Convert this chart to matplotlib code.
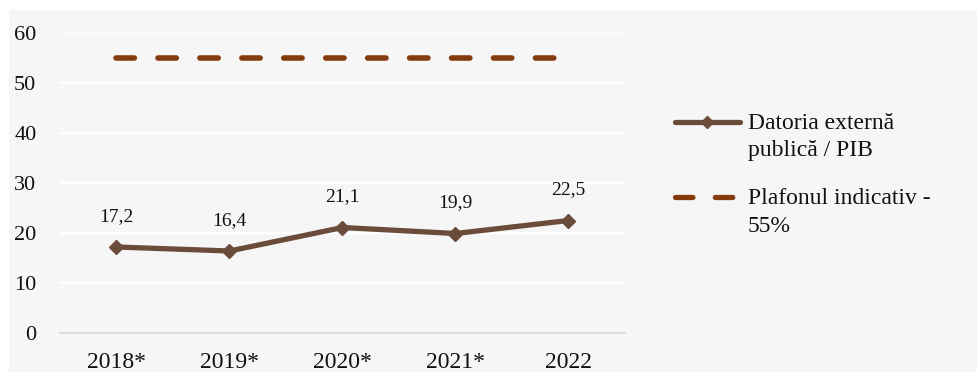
import matplotlib
matplotlib.use("Agg")
import matplotlib.pyplot as plt
from matplotlib.patches import Rectangle
from matplotlib.lines import Line2D

categories = ["2018*", "2019*", "2020*", "2021*", "2022"]
debt_ratio = [17.2, 16.4, 21.1, 19.9, 22.5]
ceiling = [55, 55, 55, 55, 55]
labels = ["17,2", "16,4", "21,1", "19,9", "22,5"]
series_names = ["Datoria externă\npublică / PIB", "Plafonul indicativ -\n55%"]
yticks = [0, 10, 20, 30, 40, 50, 60]

plt.rcParams['font.family'] = ['Liberation Serif', 'DejaVu Serif']

W, H = 978, 372
bg = "#f6f6f6"
fig = plt.figure(figsize=(W / 100, H / 100), dpi=100)
fig.patch.set_facecolor("white")
fig.add_artist(Rectangle((9 / W, 0), 1, 1 - 10 / H, transform=fig.transFigure,
                         facecolor=bg, edgecolor="none", zorder=-10))

ax = fig.add_axes([60 / W, 1 - 333 / H, 565 / W, 300 / H])
ax.set_facecolor(bg)
x = list(range(len(categories)))

main_col = "#6b4c3b"
dash_col = "#843c0c"
dash_style = (0, (3.3, 4.25))

ax.plot(x, ceiling, color=dash_col, lw=4.0, linestyle=dash_style,
        dash_capstyle="round", zorder=3)
ax.plot(x, debt_ratio, color=main_col, lw=3.8, marker="D", markersize=7.5,
        solid_capstyle="round", zorder=4)

for xi, v, t in zip(x, debt_ratio, labels):
    ax.annotate(t, (xi, v), xytext=(0, 19), textcoords="offset points",
                ha="center", va="baseline", fontsize=14, color="#111111")

ax.set_xlim(-0.5, len(categories) - 0.5)
ax.set_ylim(0, 60)
ax.set_yticks(yticks)
ax.set_xticks(x)
ax.set_xticklabels(categories)
ax.grid(axis="y", color="white", lw=1.5)
ax.set_axisbelow(True)
for s in ["left", "right", "top"]:
    ax.spines[s].set_visible(False)
ax.spines["bottom"].set_color("#d9d9d9")
ax.spines["bottom"].set_linewidth(1.3)
ax.tick_params(axis="both", length=0, colors="#111111")
ax.tick_params(axis="y", pad=17, labelsize=16)
ax.tick_params(axis="x", pad=14, labelsize=17)

# Legend drawn manually (Excel style: handle aligned with first text line)
def fx(px):
    return px / W

def fy(py):
    return 1 - py / H

leg_rows = [
    dict(y=122, baselines=[129, 156], color=main_col, ls="-", marker="D"),
    dict(y=197, baselines=[204, 232], color=dash_col, ls=dash_style, marker=None),
]
for row, name in zip(leg_rows, series_names):
    ln = Line2D([fx(675), fx(740)], [fy(row["y"]), fy(row["y"])],
                transform=fig.transFigure, color=row["color"], lw=3.8,
                linestyle=row["ls"], solid_capstyle="round",
                dash_capstyle="round")
    fig.add_artist(ln)
    if row["marker"]:
        fig.add_artist(Line2D([fx(707.5)], [fy(row["y"])], transform=fig.transFigure,
                              color=row["color"], marker="D", markersize=6.5,
                              linestyle="none"))
    for line_text, bl in zip(name.split("\n"), row["baselines"]):
        fig.text(fx(748), fy(bl), line_text, ha="left", va="baseline",
                 fontsize=17, color="#111111")

fig.savefig("out.png", dpi=100, facecolor=fig.get_facecolor())
